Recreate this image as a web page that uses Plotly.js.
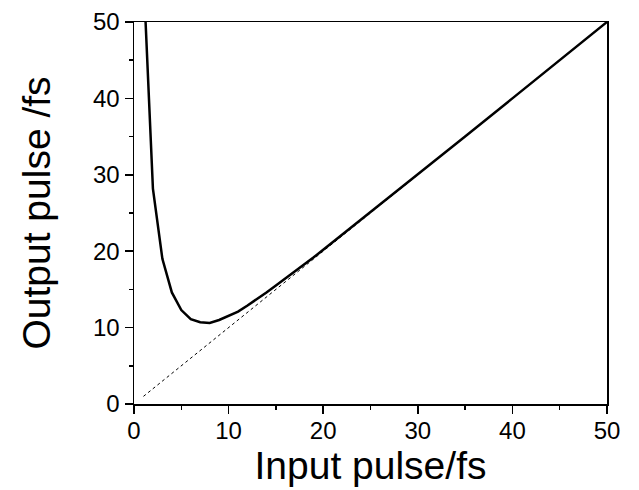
<!DOCTYPE html>
<html>
<head>
<meta charset="utf-8">
<script src="https://cdn.plot.ly/plotly-3.0.1.min.js"></script>
<style>html,body{margin:0;padding:0;background:#fff;}#chart{width:639px;height:490px;}</style>
</head>
<body>
<div id="chart"></div>
<script>
// Input pulse duration (fs)
const inputPulse = [1, 2, 3, 4, 5, 6, 7, 8, 9, 10, 11, 12, 13, 14, 15, 16, 17, 18, 19, 20, 25, 30, 35, 40, 45, 50];
// Output pulse duration (fs)
const outputPulse = [56.3, 28.2, 19.0, 14.6, 12.3, 11.1, 10.7, 10.6, 11.0, 11.5, 12.1, 12.9, 13.7, 14.6, 15.5, 16.4, 17.3, 18.3, 19.2, 20.2, 25.1, 30.1, 35.0, 40.0, 45.0, 50.0];
// Reference line (output = input)
const refX = [1, 50];
const refY = [1, 50];

const axisFont = {family: 'Liberation Sans, Arial, sans-serif', size: 24, color: '#000'};
const titleFont = {family: 'Liberation Sans, Arial, sans-serif', size: 39, color: '#000'};

const traces = [
  {x: refX, y: refY, mode: 'lines', line: {color: '#000', width: 1, dash: '3px,3px'}, hoverinfo: 'skip'},
  {x: inputPulse, y: outputPulse, mode: 'lines', line: {color: '#000', width: 2.5}}
];

const common = {
  range: [0, 50], dtick: 10, tick0: 0,
  ticks: 'outside', ticklen: 8, tickwidth: 1.5, tickcolor: '#000',
  showline: true, linecolor: '#000', linewidth: 1.5, mirror: true,
  showgrid: false, zeroline: false, tickfont: axisFont,
  minor: {dtick: 5, tick0: 0, ticks: 'outside', ticklen: 4, tickwidth: 1.5, tickcolor: '#000', showgrid: false}
};

const layout = {
  width: 639, height: 490,
  margin: {l: 134, r: 32, t: 22, b: 86},
  paper_bgcolor: '#fff', plot_bgcolor: '#fff',
  showlegend: false,
  xaxis: Object.assign({}, common, {ticklabelstandoff: -3, title: {text: 'Input pulse/fs', font: titleFont, standoff: 6}}),
  yaxis: Object.assign({}, common, {title: {text: 'Output pulse /fs', font: titleFont, standoff: 30}})
};

Plotly.newPlot('chart', traces, layout, {staticPlot: true, displayModeBar: false});
</script>
</body>
</html>
